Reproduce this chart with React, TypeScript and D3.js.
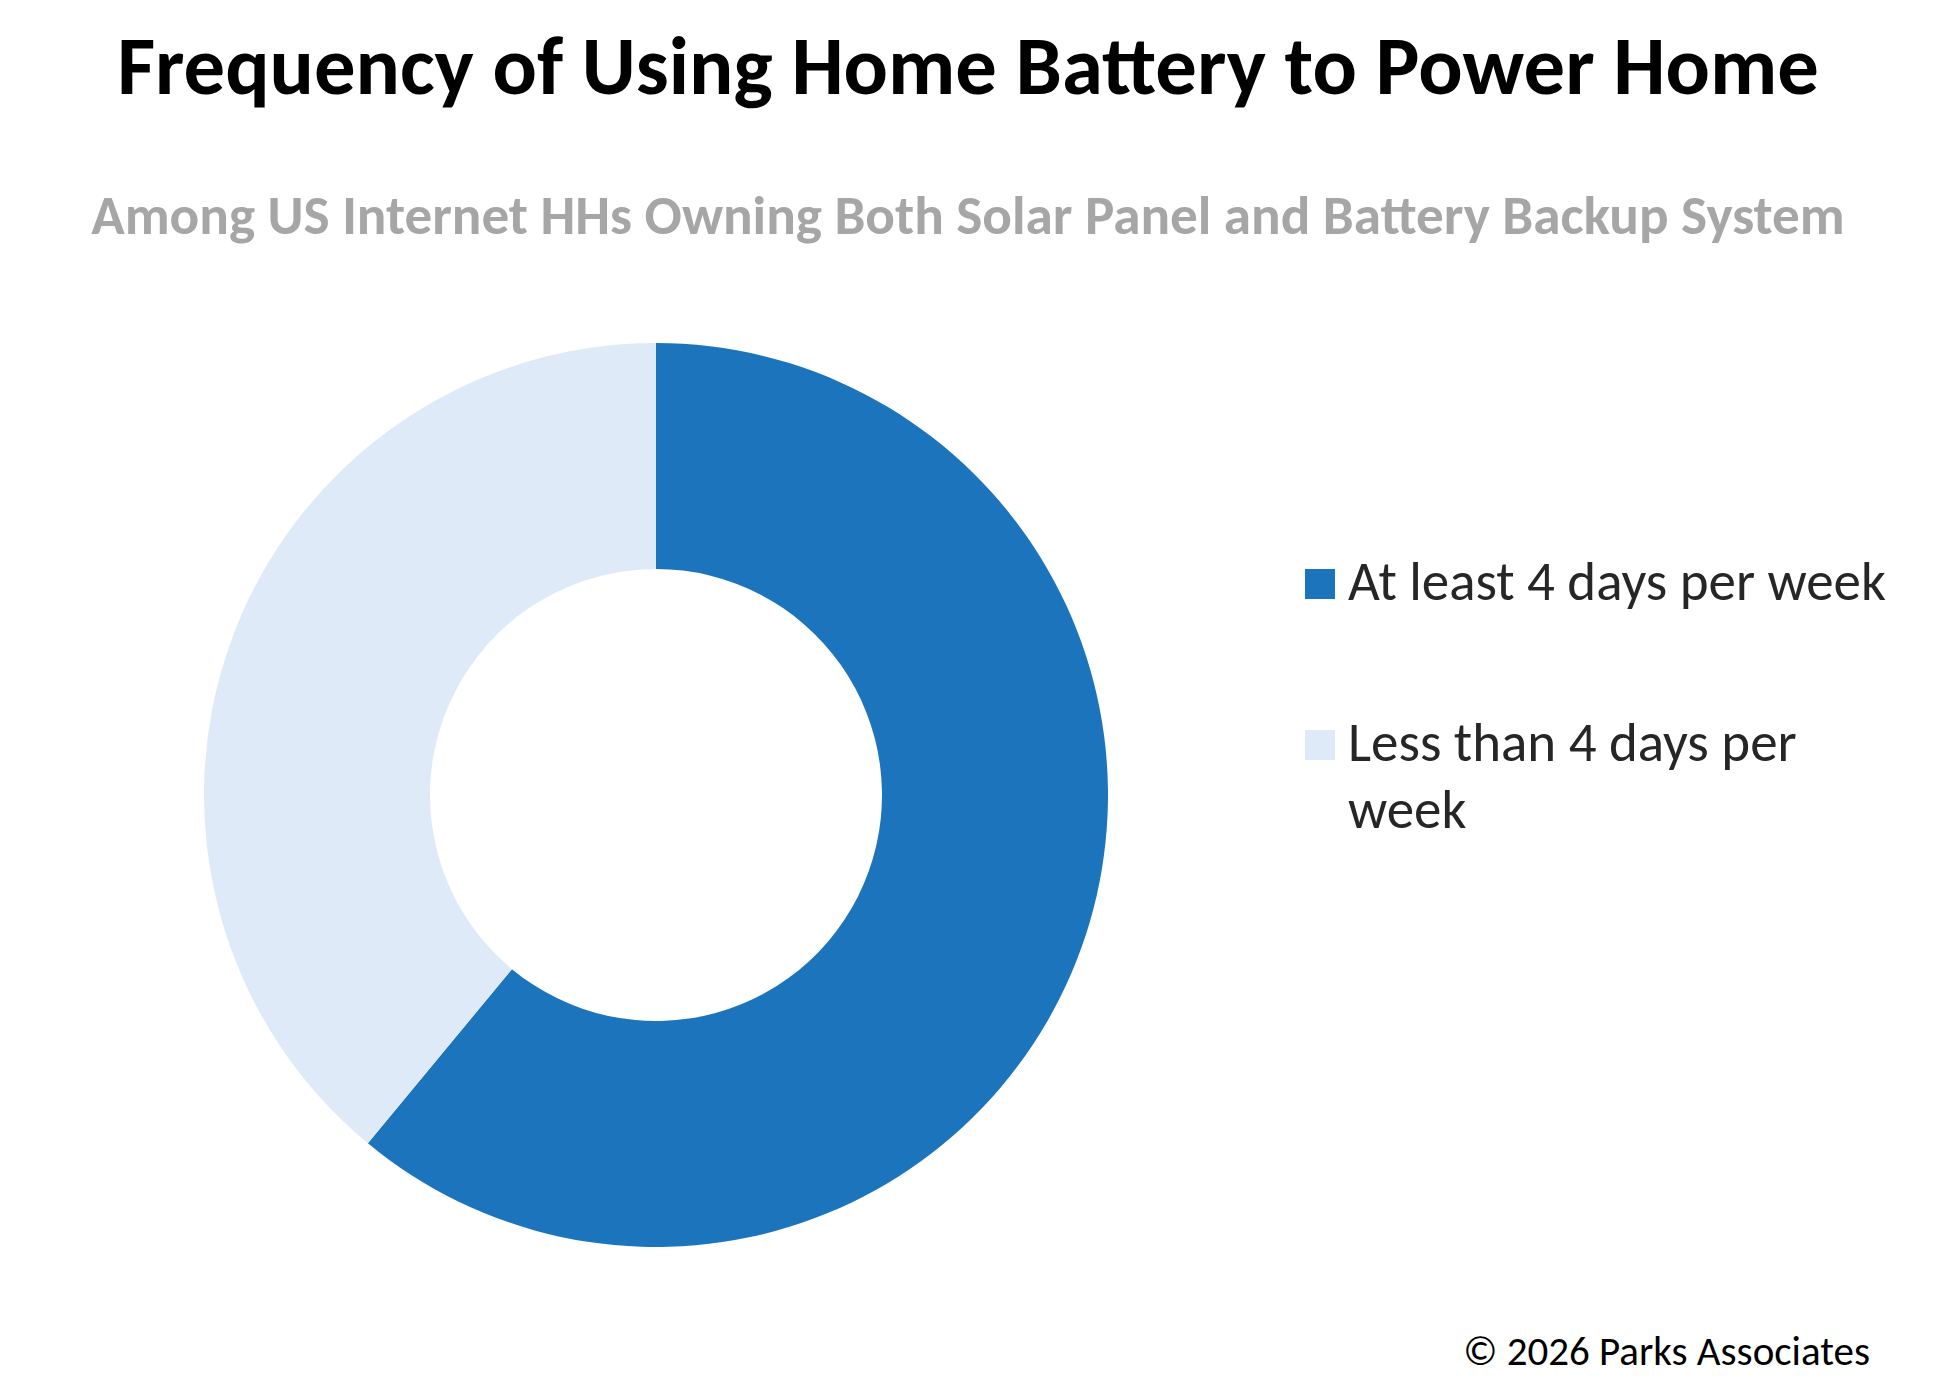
import { useEffect, useRef } from 'react';
import * as d3 from 'd3';

const categories = ['At least 4 days per week', 'Less than 4 days per week'];
const shares = [61, 39];
const colors = ['#1C75BC', '#DEEAF7'];
const legendLines = [['At least 4 days per week'], ['Less than 4 days per', 'week']];

const title = 'Frequency of Using Home Battery to Power Home';
const subtitle = 'Among US Internet HHs Owning Both Solar Panel and Battery Backup System';
const credit = '\u00A9 2026 Parks Associates';

const W = 1938;
const H = 1396;
const FONT = "Carlito, Calibri, 'Open Sans', sans-serif";

// shrink/grow a text node so it spans the width seen in the reference
function fitWidth(sel: d3.Selection<SVGTextElement, unknown, null, undefined>, target: number) {
  const node = sel.node();
  if (!node) return;
  const len = node.getComputedTextLength();
  const size = parseFloat(sel.attr('font-size'));
  if (len > 0) sel.attr('font-size', (size * target) / len);
}

export default function App() {
  const svgRef = useRef<SVGSVGElement>(null);

  useEffect(() => {
    if (!svgRef.current) return;
    const svg = d3.select(svgRef.current);
    svg.selectAll('*').remove();

    svg.append('rect').attr('width', W).attr('height', H).attr('fill', '#ffffff');

    // Title
    const t = svg
      .append('text')
      .attr('x', 968)
      .attr('y', 94)
      .attr('text-anchor', 'middle')
      .attr('font-family', FONT)
      .attr('font-weight', 700)
      .attr('font-size', 60)
      .attr('fill', '#000000')
      .text(title);
    fitWidth(t, 1702);

    // Subtitle
    const st = svg
      .append('text')
      .attr('x', 968)
      .attr('y', 234)
      .attr('text-anchor', 'middle')
      .attr('font-family', FONT)
      .attr('font-weight', 700)
      .attr('font-size', 36)
      .attr('fill', '#A6A6A6')
      .text(subtitle);
    fitWidth(st, 1754);

    // Donut
    const cx = 656;
    const cy = 795;
    const outer = 452;
    const inner = 226;

    const pie = d3
      .pie<number>()
      .sort(null)
      .value((d) => d);
    const arc = d3
      .arc<d3.PieArcDatum<number>>()
      .innerRadius(inner)
      .outerRadius(outer);

    const color = d3.scaleOrdinal<string, string>().domain(categories).range(colors);

    svg
      .append('g')
      .attr('transform', `translate(${cx},${cy})`)
      .selectAll('path')
      .data(pie(shares))
      .enter()
      .append('path')
      .attr('d', arc)
      .attr('fill', (_, i) => color(categories[i]));

    // Legend
    const legendX = 1305;
    const rowY = [569, 730];
    const legend = svg
      .append('g')
      .selectAll('g')
      .data(categories)
      .enter()
      .append('g')
      .attr('transform', (_, i) => `translate(${legendX},${rowY[i]})`);

    legend
      .append('rect')
      .attr('width', 30)
      .attr('height', 30)
      .attr('fill', (d) => color(d));

    const lt = legend
      .append('text')
      .attr('x', 43)
      .attr('y', 31)
      .attr('font-family', FONT)
      .attr('font-size', 44)
      .attr('fill', '#262626');
    lt.selectAll('tspan')
      .data((_, i) => legendLines[i])
      .enter()
      .append('tspan')
      .attr('x', 43)
      .attr('dy', (_, j) => (j === 0 ? 0 : 67))
      .text((d) => d);

    // fit first legend row to measured width, reuse size for the second
    const first = d3.select(lt.nodes()[0] as SVGTextElement);
    fitWidth(first, 538);
    lt.attr('font-size', first.attr('font-size'));

    // Credit
    const c = svg
      .append('text')
      .attr('x', 1870)
      .attr('y', 1365)
      .attr('text-anchor', 'end')
      .attr('font-family', FONT)
      .attr('font-size', 34)
      .attr('fill', '#000000')
      .text(credit);
    fitWidth(c, 407);
  }, []);

  return (
    <div style={{ margin: -8 }}>
      <svg ref={svgRef} width={W} height={H} style={{ display: 'block' }}></svg>
    </div>
  );
}
